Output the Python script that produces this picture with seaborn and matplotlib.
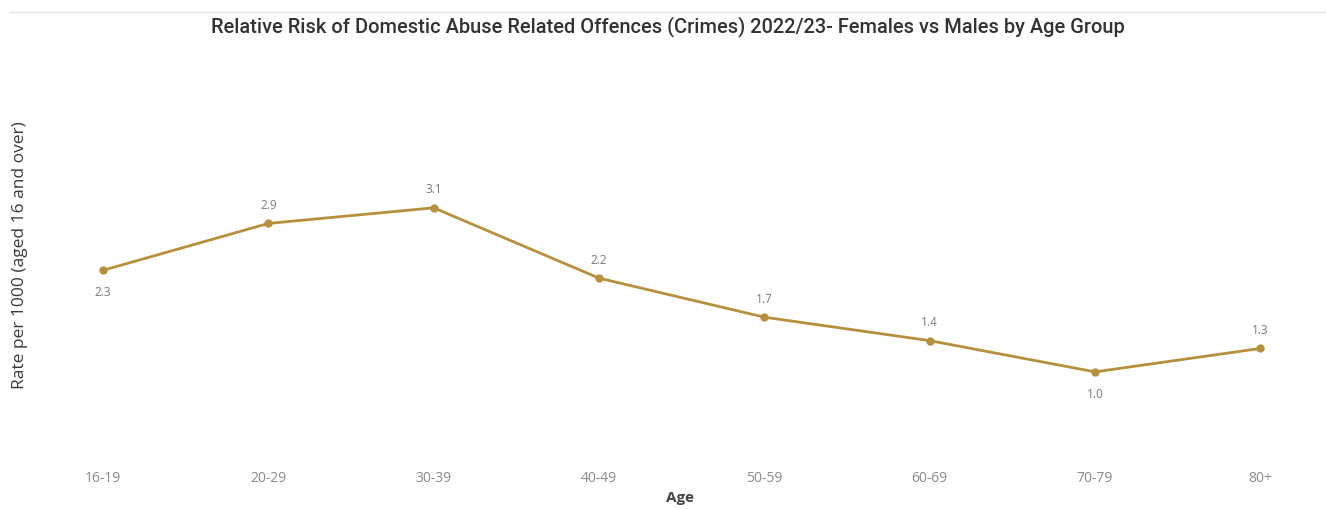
import matplotlib
matplotlib.use("Agg")
import matplotlib.pyplot as plt
from matplotlib.lines import Line2D
import seaborn as sns
import pandas as pd

# Age bands and rate values
age_groups = ["16-19", "20-29", "30-39", "40-49", "50-59", "60-69", "70-79", "80+"]
rates = [2.3, 2.9, 3.1, 2.2, 1.7, 1.4, 1.0, 1.3]
# which labels sit below their point
label_below = [True, False, False, False, False, False, True, False]

title = "Relative Risk of Domestic Abuse Related Offences (Crimes) 2022/23- Females vs Males by Age Group"
x_label = "Age"
y_label = "Rate per 1000 (aged 16 and over)"

sns.set_theme(style="white")
plt.rcParams["font.family"] = ["Open Sans", "DejaVu Sans"]

line_color = "#B8903D"

df = pd.DataFrame({"age": age_groups, "rate": rates})

fig = plt.figure(figsize=(13.26, 5.09), dpi=100)
ax = fig.add_axes([60 / 1326, 1 - 450 / 509, 1240 / 1326, 300 / 509])

sns.lineplot(data=df, x="age", y="rate", sort=False, ax=ax, color=line_color,
             linewidth=2.0, marker="o", markersize=6, markeredgewidth=0)

ax.set_xlim(-0.26, 7.24)
ax.set_ylim(0, 3.84)

for i, (v, below) in enumerate(zip(rates, label_below)):
    ax.annotate(f"{v:.1f}", (i, v), xytext=(0, -16 if below else 13),
                textcoords="offset points", ha="center", va="center",
                fontsize=8.5, color="#7a7a7a")

for s in ax.spines.values():
    s.set_visible(False)
ax.set_yticks([])
ax.tick_params(axis="x", length=0, pad=15, labelsize=10, labelcolor="#8a8a8a")
ax.set_xlabel(x_label, fontsize=11, color="#444444", fontweight="bold", labelpad=4)
ax.set_ylabel(y_label, fontsize=12.5, color="#3a3a3a", labelpad=0)
ax.yaxis.set_label_coords(-32 / 1240, (450 - 255) / 300)

fig.text(668 / 1326, 1 - 27 / 509, title, ha="center", va="center",
         fontsize=14.4, fontweight="medium", color="#333333",
         family=["Roboto", "DejaVu Sans"])

fig.add_artist(Line2D([10 / 1326, 1.0], [1 - 12 / 509, 1 - 12 / 509],
                      color="#e3e3e3", linewidth=1.0))

fig.savefig("out.png", dpi=100, facecolor="white")
